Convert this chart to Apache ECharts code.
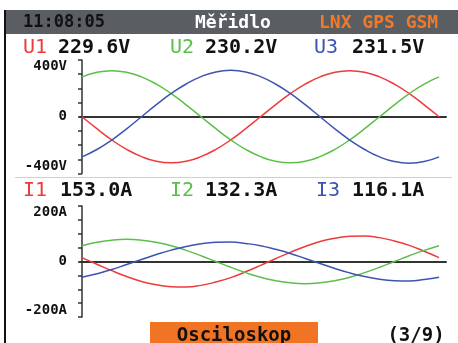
<!DOCTYPE html>
<html><head><meta charset="utf-8">
<script src="https://cdn.jsdelivr.net/npm/echarts@6/dist/echarts.min.js"></script>
<style>html,body{margin:0;padding:0;background:#fff}#c{width:458px;height:343px}</style>
</head><body><div id="c"></div>
<script>
// ---- data ----
const angles = [0,15,30,45,60,75,90,105,120,135,150,165,180,195,210,225,240,255,270,285,300,315,330,345,360];
const u1 = [0,-84,-163,-230,-281,-314,-325,-314,-281,-230,-163,-84,0,84,163,230,281,314,325,314,281,230,163,84,0];
const u2 = [281,314,325,314,281,230,163,84,0,-84,-163,-230,-281,-314,-325,-314,-281,-230,-163,-84,0,84,163,230,281];
const u3 = [-283,-231,-164,-85,0,85,164,231,283,316,327,316,283,231,164,85,0,-85,-164,-231,-283,-316,-327,-316,-283];
const i1 = [14,-10,-33,-54,-72,-84,-91,-92,-86,-74,-58,-37,-14,10,33,54,72,84,91,92,86,74,58,37,14];
const i2 = [57,69,77,80,77,69,57,40,21,0,-21,-40,-57,-69,-77,-80,-77,-69,-57,-40,-21,0,21,40,57];
const i3 = [-57,-44,-29,-11,7,25,41,54,64,69,70,65,57,44,29,11,-7,-25,-41,-54,-64,-69,-70,-65,-57];
const uNames = ['U1','U2','U3'];
const uReadings = ['229.6V','230.2V','231.5V'];
const iNames = ['I1','I2','I3'];
const iReadings = ['153.0A','132.3A','116.1A'];
const uTicks = {400:'{t|400V}', 0:'{m|0}', '-400':'{b|-400V}'};
const iTicks = {200:'{t|200A}', 0:'{m|0}', '-200':'{b|-200A}'};
const headerTime = '11:08:05';
const headerTitle = 'Měřidlo';
const headerStatus = 'LNX GPS GSM';
const modeName = 'Osciloskop';
const pageInfo = '(3/9)';

const colors = ['#ee3b3b', '#5cbf4a', '#3d55b0'];
const MONO = '"DejaVu Sans Mono", monospace';

function pairs(vals){ return angles.map((a,k)=>[a, vals[k]]); }

const chart = echarts.init(document.getElementById('c'), null, {renderer:'canvas'});

const lblBase = {color:'#111', fontFamily:MONO, fontWeight:'bold', fontSize:14};
function yAx(idx, lim, step, labels){
  return {
    type:'value', gridIndex: idx, min: -lim, max: lim, interval: step,
    axisLine:{show:true, lineStyle:{color:'#333', width:1.5}},
    axisTick:{show:true, length:4, lineStyle:{color:'#333', width:1.5}},
    splitLine:{show:false},
    axisLabel:Object.assign({margin:13,
      formatter: v => (labels[v] !== undefined ? labels[v] : ''),
      rich:{
        t:Object.assign({padding:[13,0,0,0]}, lblBase),
        m:Object.assign({}, lblBase),
        b:Object.assign({padding:[0,0,14,0]}, lblBase)
      }}, lblBase)
  };
}
function xAx(idx){
  return {
    type:'value', gridIndex: idx, min:-2, max:367,
    axisLine:{show:true, onZero:true, lineStyle:{color:'#333', width:2}},
    axisTick:{show:false}, axisLabel:{show:false}, splitLine:{show:false}
  };
}
function ser(vals, c, idx){
  return {type:'line', xAxisIndex: idx, yAxisIndex: idx, data: pairs(vals), smooth:true,
    showSymbol:false, lineStyle:{color:c, width:1.5}, itemStyle:{color:c}, animation:false, z:3};
}

const graphics = [
  {type:'rect', shape:{x:6, y:10, width:452, height:24}, style:{fill:'#5a5d62'}},
  {type:'rect', shape:{x:4, y:10, width:2, height:333}, style:{fill:'#111'}},
  {type:'rect', shape:{x:15, y:177, width:437, height:1}, style:{fill:'#d0d0d0'}},
  {type:'text', style:{text:headerTime, x:23, y:23, font:'bold 17px '+MONO, fill:'#111', verticalAlign:'middle'}},
  {type:'text', style:{text:headerTitle, x:195, y:23, font:'bold 18px '+MONO, fill:'#ffffff', verticalAlign:'middle'}},
  {type:'text', style:{text:headerStatus, x:319, y:23, font:'bold 18px '+MONO, fill:'#f07a2a', verticalAlign:'middle'}},
  {type:'rect', shape:{x:150, y:322, width:168, height:21}, style:{fill:'#f07423'}},
  {type:'text', style:{text:modeName, x:234, y:336, font:'bold 19px '+MONO, fill:'#111', align:'center', verticalAlign:'middle'}},
  {type:'text', style:{text:pageInfo, x:416, y:336, font:'bold 19px '+MONO, fill:'#111', align:'center', verticalAlign:'middle'}}
];
const uNameX = [23,170,314], uValX = [58,205,352];
const iNameX = [23,170,316], iValX = [60,205,352];
for (let k=0;k<3;k++){
  graphics.push({type:'text', style:{text:uNames[k], x:uNameX[k], y:48, font:'20px '+MONO, fill:colors[k], verticalAlign:'middle'}});
  graphics.push({type:'text', style:{text:uReadings[k], x:uValX[k], y:48, font:'bold 20px '+MONO, fill:'#111', verticalAlign:'middle'}});
  graphics.push({type:'text', style:{text:iNames[k], x:iNameX[k], y:191, font:'20px '+MONO, fill:colors[k], verticalAlign:'middle'}});
  graphics.push({type:'text', style:{text:iReadings[k], x:iValX[k], y:191, font:'bold 20px '+MONO, fill:'#111', verticalAlign:'middle'}});
}

chart.setOption({
  animation:false,
  backgroundColor:'#ffffff',
  grid:[
    {left:80, right:12, top:60, height:113.5},
    {left:80, right:12, top:206, height:111}
  ],
  xAxis:[xAx(0), xAx(1)],
  yAxis:[yAx(0, 400, 100, uTicks), yAx(1, 200, 50, iTicks)],
  series:[
    ser(u1, colors[0], 0), ser(u2, colors[1], 0), ser(u3, colors[2], 0),
    ser(i1, colors[0], 1), ser(i2, colors[1], 1), ser(i3, colors[2], 1)
  ],
  graphic: graphics
});
</script>
</body></html>
